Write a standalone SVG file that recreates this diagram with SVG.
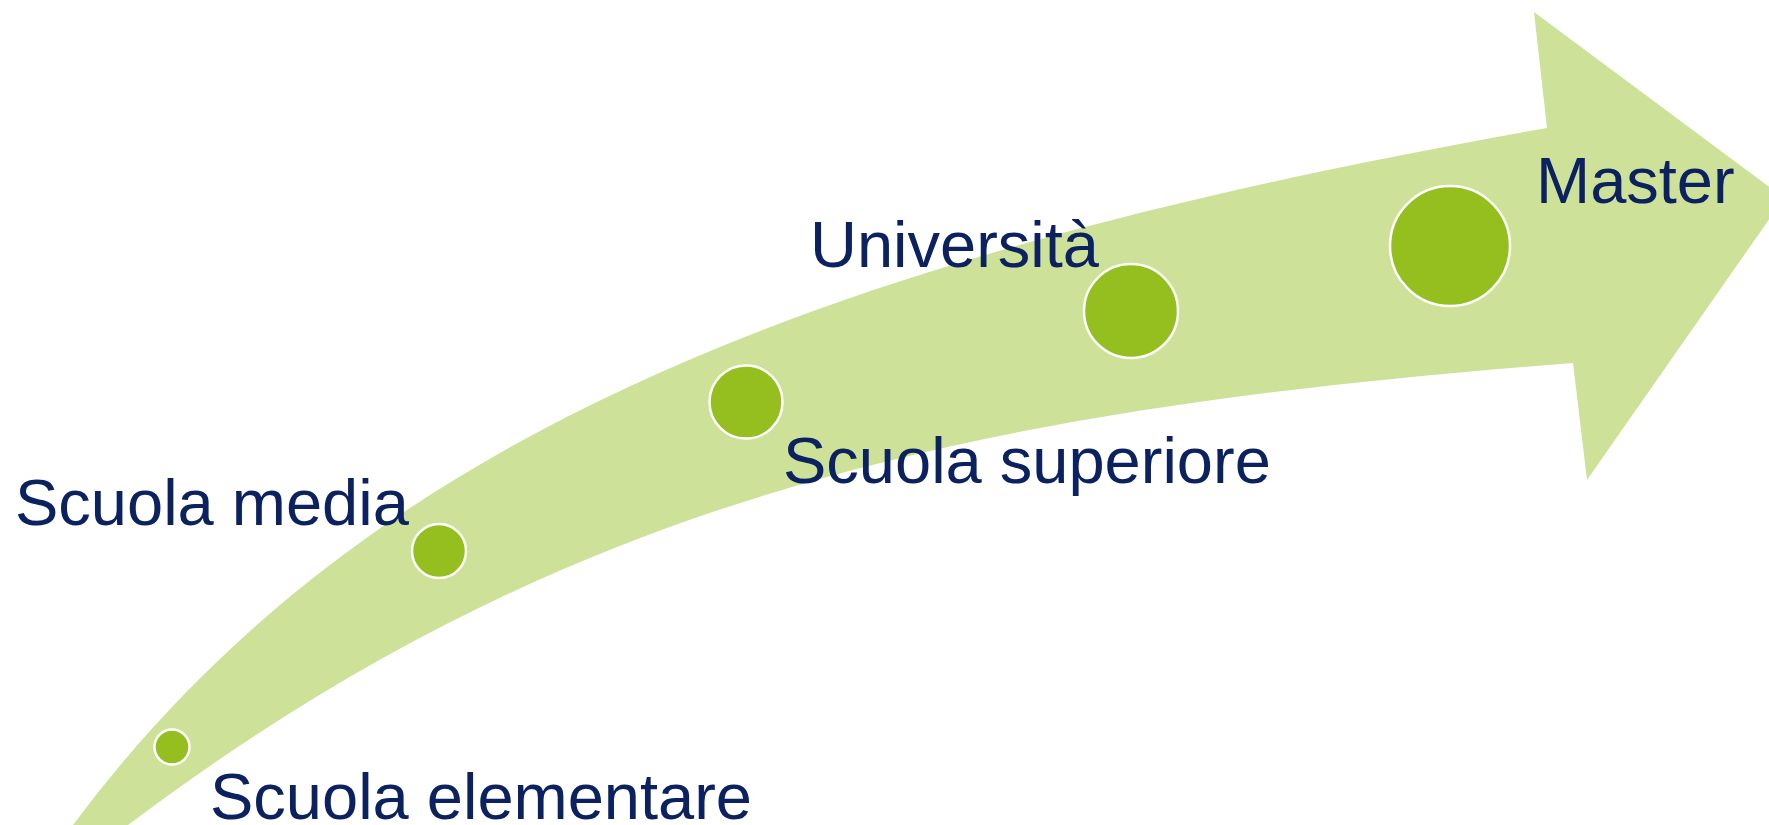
<svg xmlns="http://www.w3.org/2000/svg" width="1769" height="825" viewBox="0 0 1769 825">
<style>
.dot{fill:#94BF1F;stroke:#FFFFFF;stroke-width:2.5}
.lbl{font-family:"Liberation Sans",Arial,sans-serif;font-size:65px;fill:#0B2160}
</style>
<rect width="1769" height="825" fill="#FFFFFF"/>
<g id="arrow">
<path fill="#CDE199" d="M128,825 C560,500 960,410 1573,363 L1587,480 L1784,198 L1534,12 L1547,128 C810,258 360,440 73,825 Z"/>
</g>
<g id="connectors"></g>
<g id="node-elementare">
<circle class="dot" cx="172" cy="747" r="17.5"/>
<text class="lbl" x="210" y="819">Scuola elementare</text>
</g>
<g id="node-media">
<circle class="dot" cx="439" cy="551" r="27"/>
<text class="lbl" x="15" y="525">Scuola media</text>
</g>
<g id="node-superiore">
<circle class="dot" cx="746" cy="402" r="36.5"/>
<text class="lbl" x="783" y="483">Scuola superiore</text>
</g>
<g id="node-universita">
<circle class="dot" cx="1131" cy="311" r="47"/>
<text class="lbl" x="810" y="267">Università</text>
</g>
<g id="node-master">
<circle class="dot" cx="1450" cy="246" r="60"/>
<text class="lbl" x="1536" y="203">Master</text>
</g>
</svg>
